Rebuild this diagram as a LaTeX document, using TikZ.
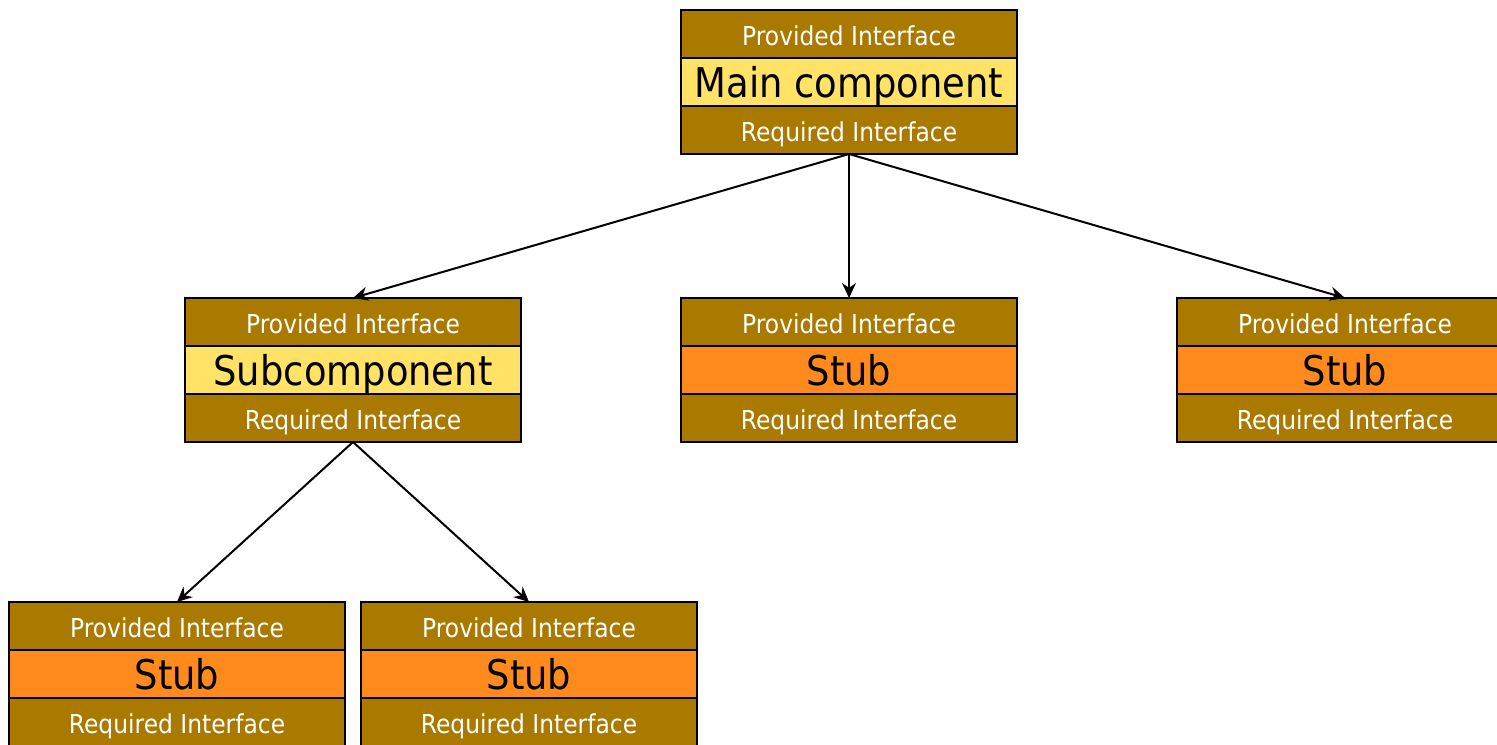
\documentclass[tikz,border=0pt]{standalone}
\usepackage{fontspec}
\setmainfont[FakeStretch=0.9]{DejaVu Sans}
\usepackage{tikz}
\usetikzlibrary{positioning,arrows.meta}

\definecolor{ifbrown}{RGB}{170,121,0}
\definecolor{mainyellow}{RGB}{255,226,102}
\definecolor{stuborange}{RGB}{255,138,30}

\tikzset{
  band/.style={draw=black, line width=1pt, minimum width=168pt,
               minimum height=24pt, inner sep=0pt, outer sep=0pt},
  iface/.style={band, fill=ifbrown, text=white, text height=12pt,
                text depth=1pt, font=\fontsize{13}{15}\selectfont},
  core/.style={band, text=black, text height=17pt, text depth=2pt,
               font=\fontsize{20.5}{23}\selectfont},
  arr/.style={line width=1pt, -{Stealth[length=7.5pt,width=7pt]}}
}

% name, x, y of top band, label, fill
\newcommand\component[5]{%
  \node[iface] (#1-p) at (#2,#3) {Provided Interface};
  \node[core, fill=#5, below=0pt of #1-p] (#1) {#4};
  \node[iface, below=0pt of #1] (#1-r) {Required Interface};
}

\begin{document}
\begin{tikzpicture}[x=0.5pt, y=-0.5pt]
\useasboundingbox (0,0) rectangle (1497,744);
\component{main}{849}{34}{Main component}{mainyellow}
\component{sub}{353}{322}{Subcomponent}{mainyellow}
\component{stubb}{849}{322}{Stub}{stuborange}
\component{stubc}{1345}{322}{Stub}{stuborange}
\component{stubd}{177}{626}{Stub}{stuborange}
\component{stube}{529}{626}{Stub}{stuborange}

\draw[arr] (main-r.south) -- (sub-p.north);
\draw[arr] (main-r.south) -- (stubb-p.north);
\draw[arr] (main-r.south) -- (stubc-p.north);
\draw[arr] (sub-r.south) -- (stubd-p.north);
\draw[arr] (sub-r.south) -- (stube-p.north);
\end{tikzpicture}
\end{document}
